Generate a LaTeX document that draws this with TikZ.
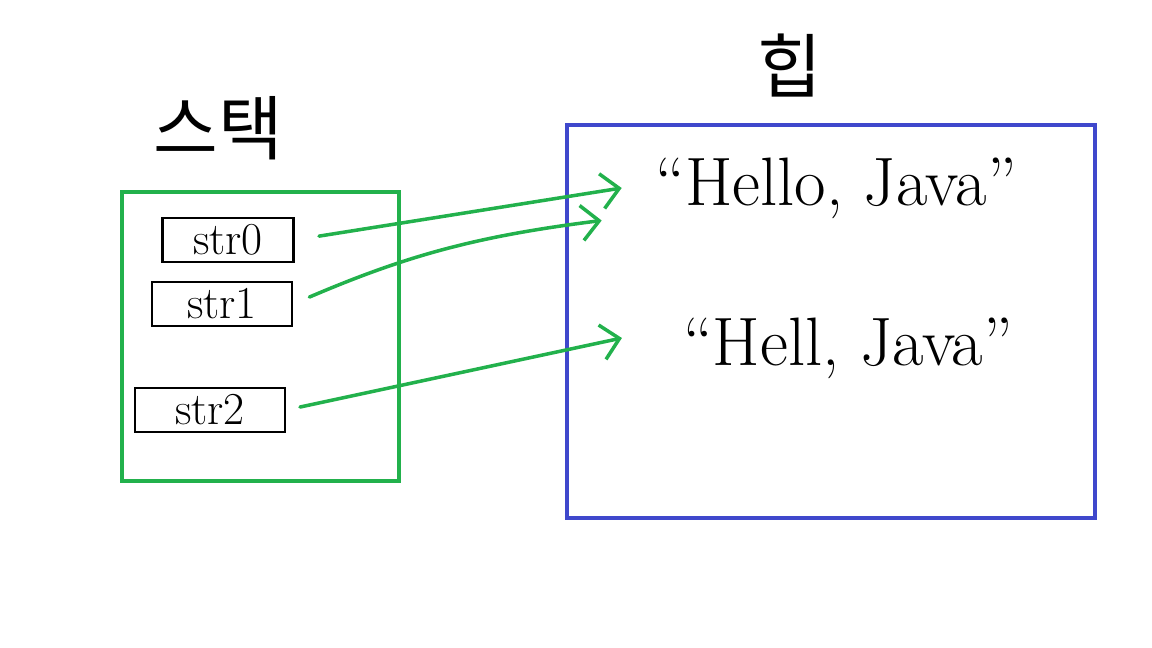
\documentclass[tikz,border=0pt]{standalone}
\usepackage{fontspec}
\newfontfamily\krfont{Noto Sans CJK KR}
\usetikzlibrary{arrows.meta}
\definecolor{stackgreen}{RGB}{34,177,76}
\definecolor{heapblue}{RGB}{63,72,204}
\tikzset{
  var/.style={draw, line width=1.4pt, inner sep=2pt, minimum height=0.88cm,
    font=\fontsize{26}{30}\selectfont},
  val/.style={font=\fontsize{39}{44}\selectfont},
  area/.style={font=\krfont\fontsize{40}{46}\selectfont},
  ref/.style={stackgreen, line width=2pt, line cap=round,
    -{Straight Barb[length=10pt,width=20pt,line width=2pt]}},
}
\begin{document}
\begin{tikzpicture}[x=0.02cm,y=-0.02cm]
\useasboundingbox (0,0) rectangle (1152,648);
% stack and heap areas
\draw[stackgreen, line width=2.3pt] (122,192) rectangle (399,481);
\draw[heapblue, line width=2.3pt] (567,125) rectangle (1095,518);
\node[area] (stk) at (218,128) {스택};
\node[area] (heap) at (790,66) {힙};
% variables
\node[var, minimum width=2.62cm] (str0) at (228,240) {str0};
\node[var, minimum width=2.8cm]  (str1) at (222,304) {str1};
\node[var, minimum width=3cm]    (str2) at (210,410) {str2};
% string objects
\node[val] (hello) at (836,188) {“Hello, Java”};
\node[val] (hell)  at (848,348) {“Hell, Java”};
\draw[ref, shorten <=14pt] (str0.east) -- ([xshift=-0.55cm]hello.west);
\draw[ref, shorten <=10pt] (str1.east) to[bend left=8] ([xshift=-0.95cm,yshift=-0.65cm]hello.west);
\draw[ref, shorten <=8pt] (str2.east) -- ([xshift=-1.1cm,yshift=0.2cm]hell.west);
\end{tikzpicture}
\end{document}
